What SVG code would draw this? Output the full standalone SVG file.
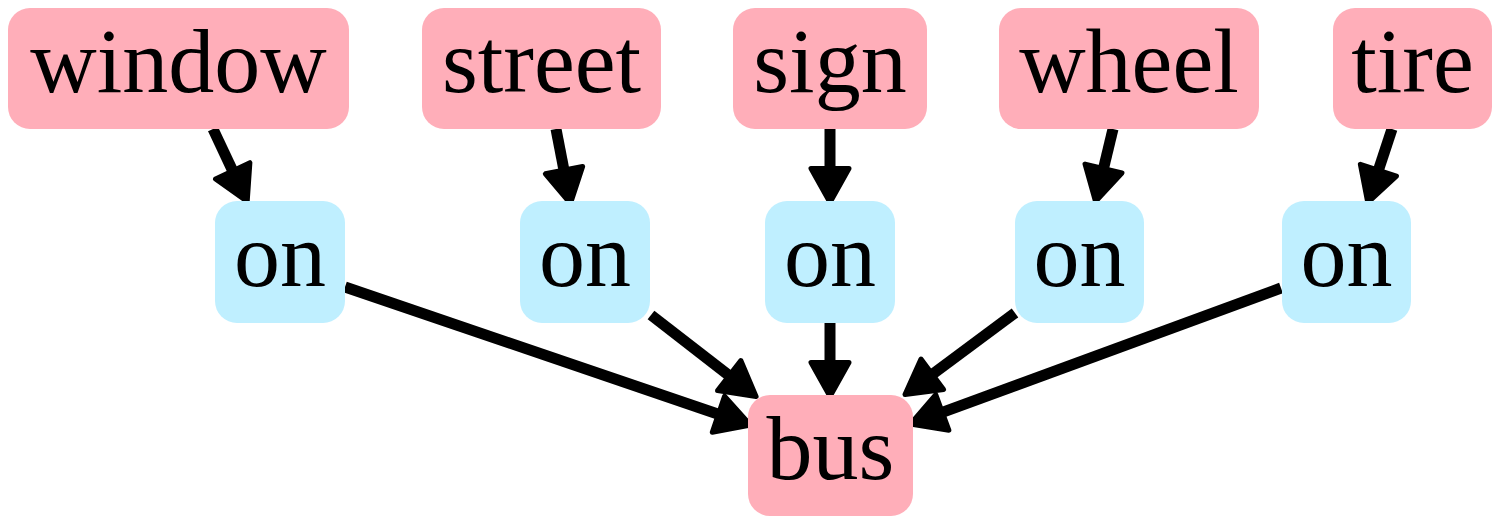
<svg xmlns="http://www.w3.org/2000/svg" width="1500" height="524" viewBox="0 0 1500 524">
<style>
.pk{fill:#ffaeb9}
.bl{fill:#bfefff}
.t{font-family:"Liberation Serif","Times New Roman",serif;font-size:92px;fill:#000;text-anchor:middle}
.e{stroke:#000;stroke-width:11;fill:none}
</style>
<defs>
<marker id="ah" markerUnits="userSpaceOnUse" orient="auto" refX="0" refY="0" markerWidth="60" markerHeight="60" viewBox="-5 -30 60 60" overflow="visible">
<path d="M0,-19 L34,0 L0,19 Z" fill="#000" stroke="#000" stroke-width="5" stroke-linejoin="round"/>
</marker>
</defs>
<rect width="1500" height="524" fill="#fff"/>
<g id="edges">
<line class="e" x1="213" y1="129" x2="232.7" y2="170.8" marker-end="url(#ah)"/>
<line class="e" x1="556" y1="129" x2="564.0" y2="170.2" marker-end="url(#ah)"/>
<line class="e" x1="830" y1="129" x2="830" y2="168.5" marker-end="url(#ah)"/>
<line class="e" x1="1113" y1="129" x2="1103.5" y2="168.5" marker-end="url(#ah)"/>
<line class="e" x1="1392" y1="129" x2="1378.4" y2="170.3" marker-end="url(#ah)"/>
<line class="e" x1="345" y1="287" x2="718.4" y2="414.2" marker-end="url(#ah)"/>
<line class="e" x1="651" y1="315" x2="729.2" y2="375.6" marker-end="url(#ah)"/>
<line class="e" x1="830" y1="323" x2="830" y2="362.5" marker-end="url(#ah)"/>
<line class="e" x1="1015" y1="313" x2="932.3" y2="374.3" marker-end="url(#ah)"/>
<line class="e" x1="1281" y1="288" x2="942.3" y2="412.4" marker-end="url(#ah)"/>
</g>
<g id="window"><rect class="pk" x="8" y="8" width="341" height="121" rx="22"/><text class="t" x="178.5" y="92">window</text></g>
<g id="street"><rect class="pk" x="422" y="8" width="239" height="121" rx="22"/><text class="t" x="541.5" y="92">street</text></g>
<g id="sign"><rect class="pk" x="733" y="8" width="194" height="121" rx="22"/><text class="t" x="830" y="92">sign</text></g>
<g id="wheel"><rect class="pk" x="999" y="8" width="260" height="121" rx="22"/><text class="t" x="1129" y="92">wheel</text></g>
<g id="tire"><rect class="pk" x="1333" y="8" width="159" height="121" rx="22"/><text class="t" x="1412.5" y="92">tire</text></g>
<g id="on1"><rect class="bl" x="215" y="201" width="130" height="122" rx="22"/><text class="t" x="280" y="286">on</text></g>
<g id="on2"><rect class="bl" x="520" y="201" width="130" height="122" rx="22"/><text class="t" x="585" y="286">on</text></g>
<g id="on3"><rect class="bl" x="765" y="201" width="130" height="122" rx="22"/><text class="t" x="830" y="286">on</text></g>
<g id="on4"><rect class="bl" x="1015" y="201" width="129" height="122" rx="22"/><text class="t" x="1079.5" y="286">on</text></g>
<g id="on5"><rect class="bl" x="1282" y="201" width="129" height="122" rx="22"/><text class="t" x="1346.5" y="286">on</text></g>
<g id="bus"><rect class="pk" x="748" y="395" width="165" height="121" rx="22"/><text class="t" x="830.5" y="479">bus</text></g>
</svg>
